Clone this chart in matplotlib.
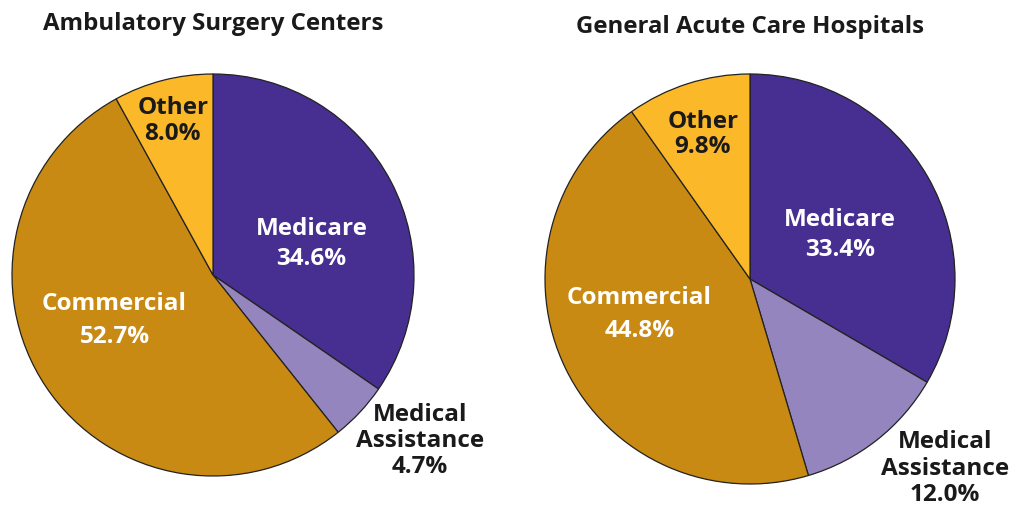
import matplotlib.pyplot as plt

# data
categories = ["Medicare", "Medical\nAssistance", "Commercial", "Other"]
asc_share = [34.6, 4.7, 52.7, 8.0]
hosp_share = [33.4, 12.0, 44.8, 9.8]
titles = ["Ambulatory Surgery Centers", "General Acute Care Hospitals"]

colors = ["#472E91", "#9585BE", "#C88A12", "#FBB829"]
txt_colors = ["white", "#1a1a1a", "white", "#1a1a1a"]
line_sp = [1.3, 1.12, 1.5, 1.1]

plt.rcParams['font.family'] = ['Open Sans', 'DejaVu Sans']

fig = plt.figure(figsize=(10.19, 5.10), dpi=100)
W, H = 1019, 510

# pie geometry in pixels: centre x, centre y (from top), radius
geom = [(213, 276, 201), (750, 280, 205)]
# label positions relative to radius
label_pos = [
    [(0.49, 0.16), (1.03, -0.82), (-0.49, -0.22), (-0.20, 0.77)],
    [(0.44, 0.22), (0.95, -0.92), (-0.54, -0.17), (-0.23, 0.71)],
]
title_y = [24, 27]

for i, vals in enumerate([asc_share, hosp_share]):
    cx, cy, r = geom[i]
    ax = fig.add_axes([(cx - r) / W, (H - cy - r) / H, 2 * r / W, 2 * r / H])
    ax.pie(vals, colors=colors, startangle=90, counterclock=False, radius=1,
           wedgeprops=dict(edgecolor="#222222", linewidth=0.9))
    ax.set_xlim(-1, 1)
    ax.set_ylim(-1, 1)
    ax.set_aspect("auto")
    ax.axis("off")
    for j, cat in enumerate(categories):
        x, y = label_pos[i][j]
        ax.text(x, y, f"{cat}\n{vals[j]:.1f}%", ha="center", va="center",
                fontsize=17.5, fontweight="bold", color=txt_colors[j],
                linespacing=line_sp[j], clip_on=False)
    fig.text(cx / W, 1 - title_y[i] / H, titles[i], ha="center", va="center",
             fontsize=17.3, fontweight="bold", color="#1a1a1a")

fig.savefig("out.png", dpi=100)
